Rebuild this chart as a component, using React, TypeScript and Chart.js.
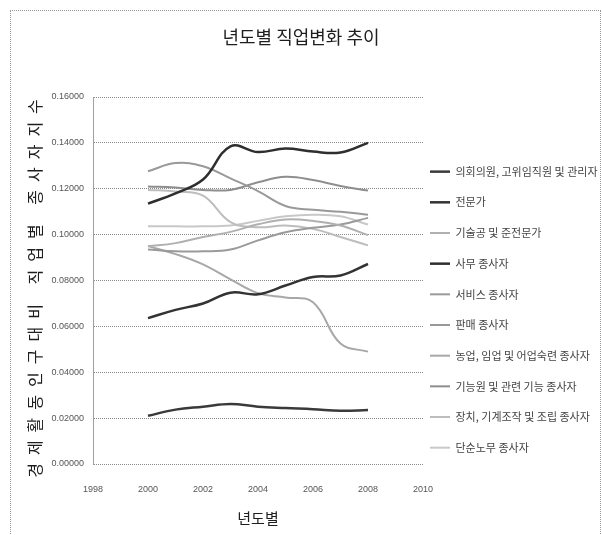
import React, { useEffect, useRef } from "react";
import { Chart, registerables } from "chart.js";

Chart.register(...registerables);

const FONT = '"Noto Sans CJK KR", "Noto Sans", sans-serif';
const TICK_FONT = '"Liberation Sans", "DejaVu Sans", sans-serif';

const titleText = "년도별 직업변화 추이";
const yTitleText = "경제활동인구대비 직업별 종사자지수";
const xTitleText = "년도별";

const years = [2000, 2001, 2002, 2003, 2004, 2005, 2006, 2007, 2008];

const seriesNames = [
  "의회의원, 고위임직원 및 관리자",
  "전문가",
  "기술공 및 준전문가",
  "사무 종사자",
  "서비스 종사자",
  "판매 종사자",
  "농업, 임업 및 어업숙련 종사자",
  "기능원 및 관련 기능 종사자",
  "장치, 기계조작 및 조립 종사자",
  "단순노무 종사자",
];

const managers = [0.021, 0.0237, 0.025, 0.0262, 0.025, 0.0244, 0.0239, 0.0232, 0.0235];
const professionals = [0.0636, 0.0672, 0.07, 0.0747, 0.074, 0.0778, 0.0815, 0.0822, 0.0872];
const technicians = [0.0949, 0.0963, 0.099, 0.1012, 0.1045, 0.1066, 0.106, 0.104, 0.0998];
const clerks = [0.1135, 0.118, 0.124, 0.1385, 0.136, 0.1375, 0.1362, 0.1358, 0.14];
const service = [0.0935, 0.0927, 0.0927, 0.0935, 0.0975, 0.101, 0.103, 0.1044, 0.1073];
const sales = [0.1276, 0.1312, 0.1298, 0.1245, 0.119, 0.1125, 0.1108, 0.11, 0.1087];
const agriculture = [0.095, 0.0915, 0.087, 0.0805, 0.0745, 0.0726, 0.0705, 0.0525, 0.049];
const craft = [0.121, 0.1205, 0.1195, 0.1195, 0.1228, 0.1252, 0.1238, 0.1212, 0.1192];
const operators = [0.1195, 0.1188, 0.117, 0.1055, 0.1032, 0.104, 0.1025, 0.099, 0.0953];
const elementary = [0.1036, 0.1036, 0.1036, 0.104, 0.106, 0.108, 0.1087, 0.108, 0.1044];

const seriesValues = [
  managers,
  professionals,
  technicians,
  clerks,
  service,
  sales,
  agriculture,
  craft,
  operators,
  elementary,
];

const seriesColors = [
  "#3a3a3a",
  "#333333",
  "#b0b0b0",
  "#2e2e2e",
  "#9a9a9a",
  "#999999",
  "#a8a8a8",
  "#8e8e8e",
  "#bdbdbd",
  "#c8c8c8",
];
const seriesWidths = [2.5, 2.5, 2, 2.5, 2, 2, 2, 2, 2, 2];

const Y_MIN = 0;
const Y_MAX = 0.16;
const Y_STEP = 0.02;
const X_MIN = 1998;
const X_MAX = 2010;
const X_STEP = 2;

const LEGEND_WIDTH = 179;

const legendWidthPlugin = {
  id: "legendWidth",
  beforeLayout(chart: any) {
    const lg = chart.legend;
    if (lg && !lg.__patched) {
      const orig = lg.fit.bind(lg);
      lg.fit = function () {
        orig();
        this.width = LEGEND_WIDTH;
      };
      lg.__patched = true;
    }
  },
};

const textPlugin = {
  id: "extraTexts",
  afterDraw(chart: any) {
    const ctx = chart.ctx as CanvasRenderingContext2D;
    const area = chart.chartArea;
    ctx.save();
    ctx.fillStyle = "#1e1e1e";
    ctx.textAlign = "center";
    ctx.textBaseline = "middle";
    ctx.font = `18px ${FONT}`;
    ctx.fillText(titleText, 301, 37);
    ctx.restore();

    ctx.save();
    ctx.fillStyle = "#1e1e1e";
    ctx.textAlign = "center";
    ctx.textBaseline = "middle";
    ctx.translate(35, (area.top + area.bottom) / 2 + 8);
    ctx.rotate(-Math.PI / 2);
    (ctx as any).letterSpacing = "8px";
    ctx.font = `16px ${FONT}`;
    ctx.fillText(yTitleText, 4, 0);
    (ctx as any).letterSpacing = "0px";
    ctx.restore();
  },
};

export default function App() {
  const ref = useRef<HTMLCanvasElement>(null);

  useEffect(() => {
    if (!ref.current) return;
    const datasets = seriesNames.map((name, i) => ({
      label: name,
      data: years.map((x, j) => ({ x, y: seriesValues[i][j] })),
      borderColor: seriesColors[i],
      backgroundColor: seriesColors[i],
      borderWidth: seriesWidths[i],
      pointRadius: 0,
      pointHoverRadius: 0,
      tension: 0.4,
      fill: false,
    }));

    const chart = new Chart(ref.current, {
      type: "line",
      data: { datasets },
      plugins: [legendWidthPlugin, textPlugin],
      options: {
        responsive: false,
        animation: false,
        layout: { padding: { top: 97, left: 0, right: 0, bottom: 0 } },
        plugins: {
          title: { display: false },
          tooltip: { enabled: false },
          legend: {
            display: true,
            position: "right",
            align: "center",
            maxWidth: LEGEND_WIDTH,
            labels: {
              usePointStyle: true,
              pointStyleWidth: 20,
              boxWidth: 20,
              padding: 7,
              color: "#444",
              font: { family: FONT, size: 11, lineHeight: 2.152 },
              generateLabels: (c: any) =>
                c.data.datasets.map((ds: any, i: number) => ({
                  text: [ds.label],
                  fillStyle: ds.borderColor,
                  strokeStyle: ds.borderColor,
                  lineWidth: ds.borderWidth,
                  pointStyle: "line",
                  hidden: false,
                  datasetIndex: i,
                  fontColor: "#444",
                })),
            },
          },
        },
        scales: {
          x: {
            type: "linear",
            min: X_MIN,
            max: X_MAX,
            grid: { display: false, drawTicks: false },
            border: { display: false },
            ticks: {
              stepSize: X_STEP,
              padding: 20,
              color: "#555",
              font: { family: TICK_FONT, size: 9 },
              callback: (v: any) => String(v),
            },
            title: {
              display: true,
              text: xTitleText,
              color: "#1e1e1e",
              font: { family: FONT, size: 15 },
              padding: { top: 0, bottom: 8 },
            },
            afterFit: (s: any) => {
              s.height = 71;
            },
          },
          y: {
            type: "linear",
            min: Y_MIN,
            max: Y_MAX,
            grid: { color: "#8a8a8a", lineWidth: 1, drawTicks: false },
            border: { display: true, color: "#a0a0a0", dash: [1, 1] },
            ticks: {
              stepSize: Y_STEP,
              padding: 9,
              color: "#555",
              font: { family: TICK_FONT, size: 9 },
              callback: (v: any) => Number(v).toFixed(5),
            },
            title: { display: false },
            afterFit: (s: any) => {
              s.width = 93;
            },
          },
        },
      },
    } as any);

    return () => chart.destroy();
  }, []);

  return (
    <div
      style={{
        position: "fixed",
        left: 0,
        top: 0,
        width: 602,
        height: 535,
        background: "#fff",
        overflow: "hidden",
      }}
    >
      <canvas ref={ref} width={602} height={535} style={{ position: "absolute", left: 0, top: 0 }} />
      <div
        style={{
          position: "absolute",
          left: 10,
          top: 10,
          width: 591,
          height: 540,
          border: "1px dotted #999",
          boxSizing: "border-box",
          pointerEvents: "none",
        }}
      />
    </div>
  );
}
